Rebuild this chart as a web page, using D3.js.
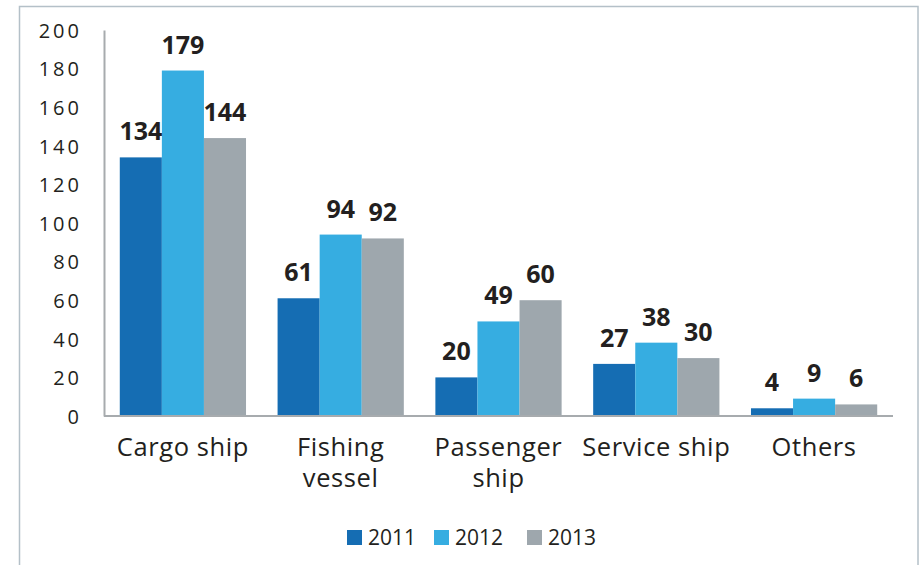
<!DOCTYPE html>
<html>
<head>
<meta charset="utf-8">
<script src="https://cdn.jsdelivr.net/npm/d3@7"></script>
<style>
  html, body { margin: 0; padding: 0; background: #fff; }
  svg { display: block; }
  text { font-family: "Open Sans", sans-serif; fill: #231f20; }
</style>
</head>
<body>
<svg id="chart" width="919" height="565"></svg>
<script>
// Ship accidents by vessel type
const categories = [["Cargo ship"], ["Fishing", "vessel"], ["Passenger", "ship"], ["Service ship"], ["Others"]];
const years = ["2011", "2012", "2013"];
const values2011 = [134, 61, 20, 27, 4];
const values2012 = [179, 94, 49, 38, 9];
const values2013 = [144, 92, 60, 30, 6];
const yTicks = [0, 20, 40, 60, 80, 100, 120, 140, 160, 180, 200];
const colors = ["#156db3", "#36ade1", "#9ea7ad"];

const series = [values2011, values2012, values2013];
const svg = d3.select("#chart");

// outer frame
svg.append("rect")
  .attr("x", 19.5).attr("y", 6.5)
  .attr("width", 898.5).attr("height", 600)
  .attr("fill", "none").attr("stroke", "#b4c0c8").attr("stroke-width", 1.5);

const plot = { left: 104, right: 893, top: 30, bottom: 416 };

const x0 = d3.scaleBand()
  .domain(d3.range(categories.length))
  .range([plot.left, plot.right])
  .paddingInner(0.2).paddingOuter(0.1);

const x1 = d3.scaleBand()
  .domain(d3.range(years.length))
  .range([0, x0.bandwidth()]);

const y = d3.scaleLinear().domain([0, 200]).range([plot.bottom, plot.top]);

// bars
const groups = svg.append("g").selectAll("g")
  .data(categories.map((c, i) => i))
  .join("g")
  .attr("transform", i => `translate(${x0(i)},0)`);

groups.selectAll("rect")
  .data(i => series.map((s, k) => ({ k, v: s[i] })))
  .join("rect")
  .attr("x", d => x1(d.k))
  .attr("width", x1.bandwidth())
  .attr("y", d => y(d.v))
  .attr("height", d => y(0) - y(d.v))
  .attr("fill", d => colors[d.k]);

groups.selectAll("text.val")
  .data(i => series.map((s, k) => ({ k, v: s[i] })))
  .join("text")
  .attr("class", "val")
  .attr("x", d => x1(d.k) + x1.bandwidth() / 2)
  .attr("y", d => y(d.v) - 17)
  .attr("text-anchor", "middle")
  .style("font-size", "25px")
  .style("font-weight", "bold")
  .text(d => d.v);

// y axis
const yAxis = d3.axisLeft(y).tickValues(yTicks).tickSize(0).tickPadding(22);
const gy = svg.append("g").attr("transform", `translate(${plot.left},0)`).call(yAxis);
gy.select(".domain").attr("stroke", "#a7abae").attr("stroke-width", 2);
gy.selectAll("text")
  .style("font-family", "'Open Sans', sans-serif")
  .style("font-size", "20px")
  .style("letter-spacing", "3px")
  .attr("dy", "0.36em");

// x axis
const gx = svg.append("g").attr("transform", `translate(0,${plot.bottom})`);
gx.append("line")
  .attr("x1", plot.left).attr("x2", plot.right)
  .attr("stroke", "#a7abae").attr("stroke-width", 2);

// category labels, one text element per line
const lines = categories.flatMap((c, i) => c.map((t, j) => ({ i, j, t })));
gx.selectAll("text")
  .data(lines)
  .join("text")
  .attr("x", d => x0(d.i) + x0.bandwidth() / 2)
  .attr("y", d => 40 + d.j * 31)
  .attr("text-anchor", "middle")
  .style("font-size", "25.5px")
  .style("letter-spacing", "0.6px")
  .text(d => d.t);

// legend
const legend = svg.append("g").attr("transform", "translate(347,530)");
const item = legend.selectAll("g")
  .data(years)
  .join("g")
  .attr("transform", (d, i) => `translate(${[0, 87, 180][i]},0)`);
item.append("rect").attr("width", 15).attr("height", 15).attr("fill", (d, i) => colors[i]);
item.append("text").attr("x", 21).attr("y", 15).style("font-size", "21px").text(d => d);
</script>
</body>
</html>
